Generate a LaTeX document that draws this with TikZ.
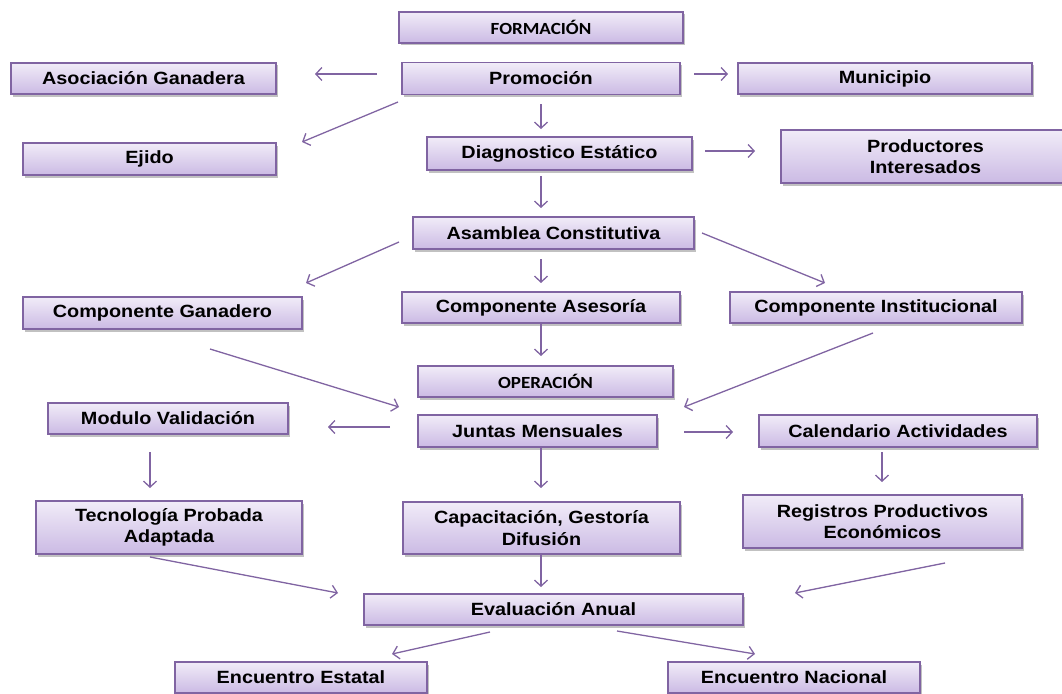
\documentclass[tikz,border=0pt]{standalone}
\usepackage{fontspec}
\newfontfamily\mainf[FakeStretch=1.12]{Liberation Sans}
\newfontfamily\calf[FakeStretch=1.12]{Carlito}
\usetikzlibrary{arrows.meta,shadows}
\definecolor{bordc}{RGB}{128,100,162}
\definecolor{topc}{RGB}{241,236,248}
\definecolor{botc}{RGB}{203,186,228}
\tikzset{
  box/.style={draw=bordc, line width=1.1pt, top color=topc, bottom color=botc,
    drop shadow={shadow xshift=1.5pt, shadow yshift=-2.5pt, opacity=0.35, fill=black!70},
    inner sep=0pt, align=center, anchor=center,
    font=\mainf\bfseries\fontsize{17.7}{21.5}\selectfont},
  hbox/.style={box, font=\calf\bfseries\fontsize{17}{20}\selectfont},
  conn/.style={draw=bordc, line width=1.3pt, -{Straight Barb[length=6pt,width=13pt]}}
}
\newcommand{\bx}[7][box]{% style, name, cx, cy, w, h, text
  \node[#1, minimum width=#5pt, minimum height=#6pt] (#2) at (#3,#4) {#7};}
\begin{document}
\begin{tikzpicture}[x=1pt,y=-1pt]
\useasboundingbox (0,0) rectangle (1062,693);
% boxes
\bx[hbox]{form}{541}{27.5}{284}{31}{FORMACIÓN}
\bx{prom}{541}{78.5}{278}{32}{Promoción}
\bx{asoc}{143.5}{78.5}{265}{31}{Asociación Ganadera}
\bx{muni}{885}{78.5}{294}{31}{Municipio}
\bx{ejido}{149.5}{159}{253}{32}{Ejido}
\bx{diag}{559.5}{153.5}{265}{33}{Diagnostico Estático}
\bx{prod}{925.5}{156.5}{289}{53}{Productores\\Interesados}
\bx{asam}{553.5}{233}{281}{32}{Asamblea Constitutiva}
\bx{cgan}{162.5}{313}{279}{32}{Componente Ganadero}
\bx{cases}{541}{307.5}{278}{31}{Componente Asesoría}
\bx{cins}{876}{307.5}{292}{31}{Componente Institucional}
\bx[hbox]{oper}{545.5}{381.5}{255}{31}{OPERACIÓN}
\bx{modu}{168}{418.5}{240}{31}{Modulo Validación}
\bx{junt}{537.5}{431}{239}{32}{Juntas Mensuales}
\bx{cal}{898}{431}{278}{32}{Calendario Actividades}
\bx{tec}{169}{527.5}{266}{53}{Tecnología Probada\\Adaptada}
\bx{cap}{541.5}{528}{277}{52}{Capacitación, Gestoría\\Difusión}
\bx{reg}{882.5}{521.5}{279}{53}{Registros Productivos\\Económicos}
\bx{eval}{553.5}{609.5}{379}{31}{Evaluación Anual}
\bx{est}{301}{677.5}{252}{31}{Encuentro Estatal}
\bx{nac}{794}{677.5}{252}{31}{Encuentro Nacional}
% connector end points
\coordinate (a1s) at (377,74);  \coordinate (a1e) at (315,74);
\coordinate (a2s) at (694,74);  \coordinate (a2e) at (728,74);
\coordinate (a3s) at (398,102); \coordinate (a3e) at (302,142);
\coordinate (a4s) at (541,104); \coordinate (a4e) at (541,129);
\coordinate (a5s) at (705,151); \coordinate (a5e) at (755,151);
\coordinate (a6s) at (541,176); \coordinate (a6e) at (541,208);
\coordinate (a7s) at (399,242); \coordinate (a7e) at (306,283);
\coordinate (a8s) at (541,259); \coordinate (a8e) at (541,283);
\coordinate (a9s) at (702,233); \coordinate (a9e) at (825,283);
\coordinate (a10s) at (541,324); \coordinate (a10e) at (541,356);
\coordinate (a11s) at (210,349); \coordinate (a11e) at (399,407);
\coordinate (a12s) at (873,333); \coordinate (a12e) at (684,407);
\coordinate (a13s) at (390,427); \coordinate (a13e) at (328,427);
\coordinate (a14s) at (684,432); \coordinate (a14e) at (733,432);
\coordinate (a15s) at (150,452); \coordinate (a15e) at (150,488);
\coordinate (a16s) at (541,447); \coordinate (a16e) at (541,488);
\coordinate (a17s) at (882,452); \coordinate (a17e) at (882,482);
\coordinate (a18s) at (150,557); \coordinate (a18e) at (338,593);
\coordinate (a19s) at (541,553); \coordinate (a19e) at (541,587);
\coordinate (a20s) at (945,563); \coordinate (a20e) at (795,593);
\coordinate (a21s) at (490,632); \coordinate (a21e) at (392,654);
\coordinate (a22s) at (617,631); \coordinate (a22e) at (755,654);
% connectors
\foreach \i in {1,...,22}{ \draw[conn] (a\i s) -- (a\i e); }
\end{tikzpicture}
\end{document}
